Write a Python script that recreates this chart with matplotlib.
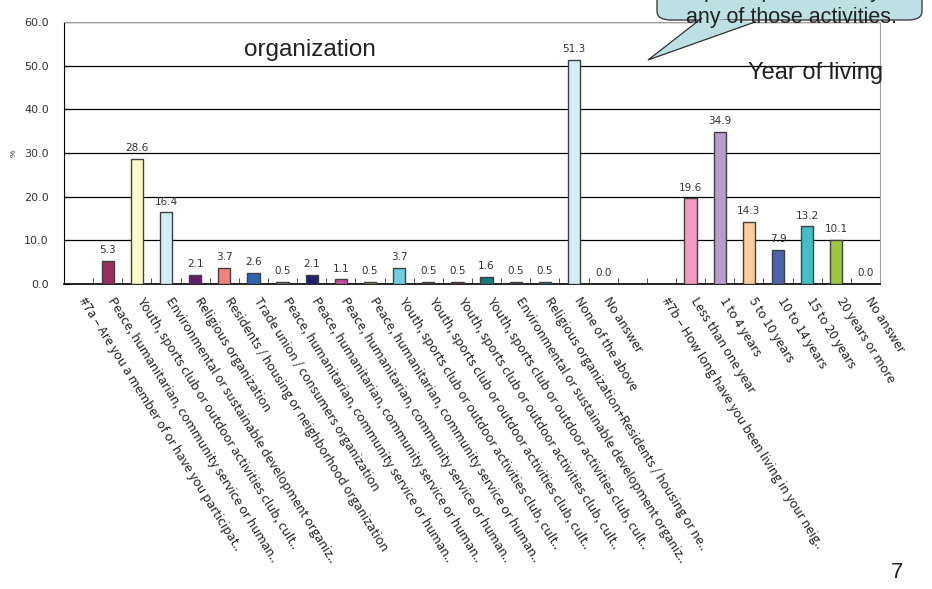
import matplotlib.pyplot as plt
from matplotlib.patches import FancyBboxPatch, Polygon
from matplotlib.transforms import ScaledTranslation

plt.rcParams['font.family'] = ['Liberation Sans', 'DejaVu Sans']

peace = "Peace, humanitarian, community service or human.."
youth = "Youth, sports club or outdoor activities club, cult.."
env = "Environmental or sustainable development organiz.."

labels = [
    "#7a \u2013 Are you a member of or have you participat..",
    peace, youth, env,
    "Religious organization",
    "Residents / housing or neighborhood organization",
    "Trade union / consumers organization",
    peace, peace, peace, peace,
    youth, youth, youth, youth,
    env,
    "Religious organization+Residents / housing or ne..",
    "None of the above",
    "No answer",
    "",
    "#7b \u2013 How long have you been living in your neig..",
    "Less than one year",
    "1 to 4 years",
    "5 to 10 years",
    "10 to 14 years",
    "15 to 20 years",
    "20 years or more",
    "No answer",
]

# None = header / spacer slot, no bar
values = [None, 5.3, 28.6, 16.4, 2.1, 3.7, 2.6, 0.5, 2.1, 1.1, 0.5,
          3.7, 0.5, 0.5, 1.6, 0.5, 0.5, 51.3, 0.0, None,
          None, 19.6, 34.9, 14.3, 7.9, 13.2, 10.1, 0.0]

colors = [None, '#9b2d5f', '#fdf8c8', '#d4eef4', '#5f1e6a', '#f78080',
          '#2e64b4', '#7b7b9a', '#20226e', '#c84ba0', '#a89a1a', '#6cd0e0',
          '#5a1e5a', '#6e1e28', '#0e7b7b', '#2a3a6e', '#1e6e8e', '#d4eef4',
          '#ffffff', None, None, '#f49ac2', '#b89ccc', '#fdcc99', '#4b63b0',
          '#40c0c4', '#9bc83c', '#ffffff']

fig = plt.figure(figsize=(9.32, 5.89), dpi=100)
ax = fig.add_axes([0.0687, 0.5178, 0.8755, 0.4448])

n = len(labels)
for i, (v, c) in enumerate(zip(values, colors)):
    if v is None:
        continue
    x = i + 0.5
    if v > 0:
        ax.bar(x, v, width=0.42, color=c, edgecolor='#404040', linewidth=1.0, zorder=3)
    ax.text(x, v + 1.3, f"{v:.1f}", ha='center', va='bottom', fontsize=7.5,
            family='DejaVu Sans', color='#333333', zorder=4)

ax.set_xlim(0, n)
ax.set_ylim(0, 60)
ax.set_yticks(range(0, 61, 10))
ax.set_yticklabels([f"{t:.1f}" for t in range(0, 61, 10)], fontsize=8,
                   family='DejaVu Sans', color='#333333')
ax.tick_params(axis='y', direction='in', length=4, pad=11)
ax.yaxis.grid(True, color='black', linewidth=0.9, zorder=0)
ax.set_axisbelow(True)

ax.set_xticks([i + 0.5 for i in range(n)])
ax.set_xticklabels(labels, rotation=-58, ha='left', va='top',
                   rotation_mode='anchor', fontsize=9.2, color='#222222',
                   family=['Noto Sans CJK JP', 'DejaVu Sans'])
ax.tick_params(axis='x', length=0, pad=8)
shift = ScaledTranslation(6 / 72, 0, fig.dpi_scale_trans)
for lab in ax.get_xticklabels():
    lab.set_transform(lab.get_transform() + shift)
ax.set_xticks(range(1, n), minor=True)
ax.tick_params(axis='x', which='minor', direction='in', length=4, color='#333333')

ax.spines['left'].set_color('black')
ax.spines['bottom'].set_color('black')
ax.spines['bottom'].set_linewidth(1.2)
ax.spines['top'].set_color('#a0a0a0')
ax.spines['right'].set_color('#a0a0a0')

fig.text(0.012, 0.74, '%', rotation=90, fontsize=6, color='#333333', va='center')

ax.text(0.301, 0.893, 'organization', transform=ax.transAxes, fontsize=17.5,
        color='#222222', ha='center', va='center')
ax.text(1.004, 0.805, 'Year of living', transform=ax.transAxes, fontsize=17,
        color='#222222', ha='right', va='center')

# speech bubble at the upper right, running off the top edge
W, H = 932.0, 589.0
bubble = FancyBboxPatch((657 / W, 1 - 20 / H), 265 / W, 60 / H,
                        boxstyle='round,pad=0,rounding_size=0.015',
                        transform=fig.transFigure, facecolor='#bde0e4',
                        edgecolor='#404040', linewidth=1.0, zorder=5)
fig.patches.append(bubble)
tail = Polygon([(702 / W, 1 - 18 / H), (648 / W, 1 - 60 / H), (755 / W, 1 - 22 / H)],
               closed=False, transform=fig.transFigure, facecolor='#bde0e4',
               edgecolor='#303030', linewidth=0.9, zorder=5)
fig.patches.append(tail)
fig.text(792 / W, 1 + 9 / H, 'participate actively', ha='center', va='center',
         fontsize=15.5, color='#222222', zorder=6)
fig.text(792 / W, 1 - 17 / H, 'any of those activities.', ha='center', va='center',
         fontsize=15.5, color='#222222', zorder=6)

fig.text(897 / W, 1 - 573 / H, '7', ha='center', va='center', fontsize=16,
         color='#222222')

fig.savefig('out.png', dpi=100)
